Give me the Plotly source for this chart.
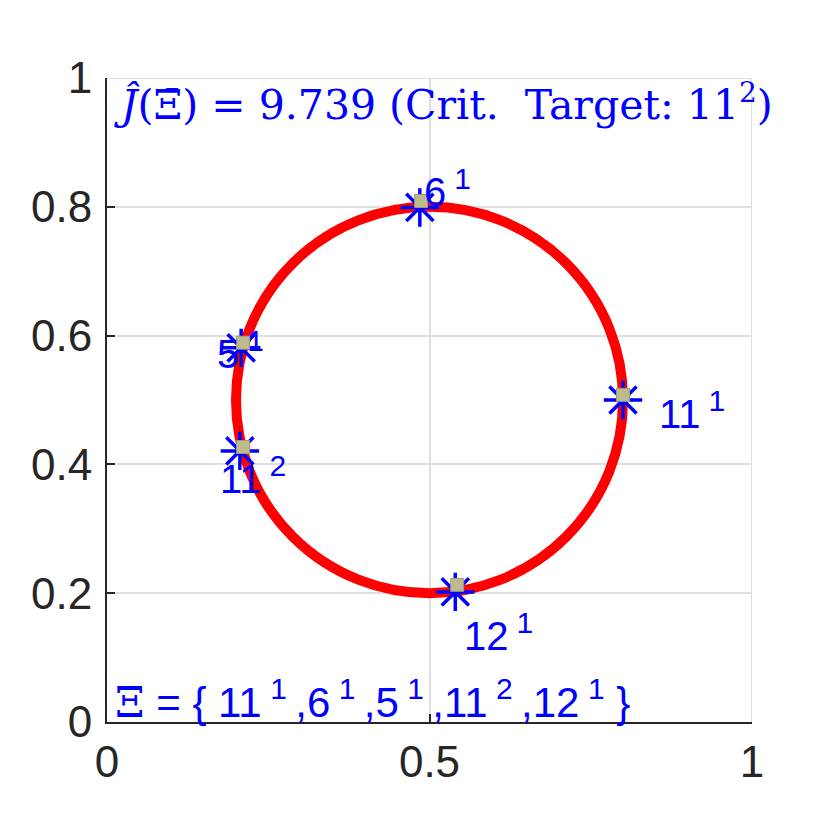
import plotly.graph_objects as go

# ---- data ----
circle_center = (0.5, 0.5)
circle_radius = 0.3

point_names = ["11", "6", "5", "11", "12"]
point_sup = ["1", "1", "1", "2", "1"]

star_x = [0.800, 0.485, 0.208, 0.206, 0.540]
star_y = [0.500, 0.799, 0.581, 0.421, 0.202]

square_x = [0.800, 0.487, 0.211, 0.211, 0.543]
square_y = [0.508, 0.809, 0.589, 0.427, 0.213]

label_x = [0.853, 0.488, 0.167, 0.172, 0.550]
label_y = [0.484, 0.829, 0.578, 0.383, 0.140]

criterion_value = 9.739
target_name = "11"
target_sup = "2"

x_ticks = [0, 0.5, 1]
x_ticklabels = ["0", "0.5", "1"]
y_ticks = [0, 0.2, 0.4, 0.6, 0.8, 1]
y_ticklabels = ["0", "0.2", "0.4", "0.6", "0.8", "1"]

BLUE = "#0000FF"
AXC = "#262626"
GRID = "#DFDFDF"
THIN = "\u2009"


def sup(s, px):
    return f"<sup><span style='font-size:{px}px'>{s}</span></sup>"


fig = go.Figure()

# top/right light border lines (grid at 1)
fig.add_shape(type="line", xref="x", yref="y", x0=1, x1=1, y0=0, y1=1,
              line=dict(color=GRID, width=2), layer="below")
fig.add_shape(type="line", xref="x", yref="y", x0=0, x1=1, y0=1, y1=1,
              line=dict(color=GRID, width=2), layer="below")

cx, cy = circle_center
fig.add_shape(type="circle", xref="x", yref="y",
              x0=cx - circle_radius, x1=cx + circle_radius,
              y0=cy - circle_radius, y1=cy + circle_radius,
              line=dict(color="#FF0000", width=10), layer="between")

fig.add_trace(go.Scatter(x=star_x, y=star_y, mode="markers",
                         marker=dict(symbol="asterisk-open", size=32, color=BLUE,
                                     line=dict(color=BLUE, width=3.5)),
                         hoverinfo="skip", showlegend=False))
fig.add_trace(go.Scatter(x=square_x, y=square_y, mode="markers",
                         marker=dict(symbol="square", size=13, color="#BDBB8E",
                                     line=dict(color="#9A9A80", width=1)),
                         hoverinfo="skip", showlegend=False))

for nm, sp, lx, ly in zip(point_names, point_sup, label_x, label_y):
    fig.add_annotation(x=lx, y=ly, xref="x", yref="y", showarrow=False,
                       xanchor="left", yanchor="middle",
                       text=f"{nm}{THIN}{sup(sp, 30)}",
                       font=dict(family="Liberation Sans, Arial", size=40, color=BLUE))

# top criterion text
fig.add_annotation(x=0.008, y=0.962, xref="x", yref="y", showarrow=False,
                   xanchor="left", yanchor="middle",
                   text=(f"<i>Ĵ</i>(Ξ\u0304) = {criterion_value} (Crit.  Target: "
                         f"{target_name}{sup(target_sup, 28)})"),
                   font=dict(family="DejaVu Serif, serif", size=41, color=BLUE))

# bottom set text
items = f"{THIN},".join(f"{n}{THIN}{sup(s, 30)}" for n, s in zip(point_names, point_sup))
fig.add_annotation(x=0.01, y=0.035, xref="x", yref="y", showarrow=False,
                   xanchor="left", yanchor="middle",
                   text=(f"<span style='font-family:DejaVu Serif'>Ξ</span> = {{ {items} }}"),
                   font=dict(family="Liberation Sans, Arial", size=42, color=BLUE))

axis_common = dict(range=[0, 1], showgrid=True, gridcolor=GRID, gridwidth=2,
                   zeroline=False, showline=True, linecolor=AXC, linewidth=2,
                   ticks="inside", ticklen=8, tickwidth=2, tickcolor=AXC,
                   tickfont=dict(family="Liberation Sans, Arial", size=44, color=AXC))

fig.update_xaxes(tickvals=x_ticks, ticktext=x_ticklabels, **axis_common)
fig.update_yaxes(tickvals=y_ticks, ticktext=y_ticklabels, ticklabelstandoff=4, **axis_common)

fig.update_layout(width=830, height=830, plot_bgcolor="white", paper_bgcolor="white",
                  margin=dict(l=107, r=78, t=78, b=108), showlegend=False)

fig.write_html("out.html", config={"displayModeBar": False},
               post_script="document.body.style.margin='0';")
